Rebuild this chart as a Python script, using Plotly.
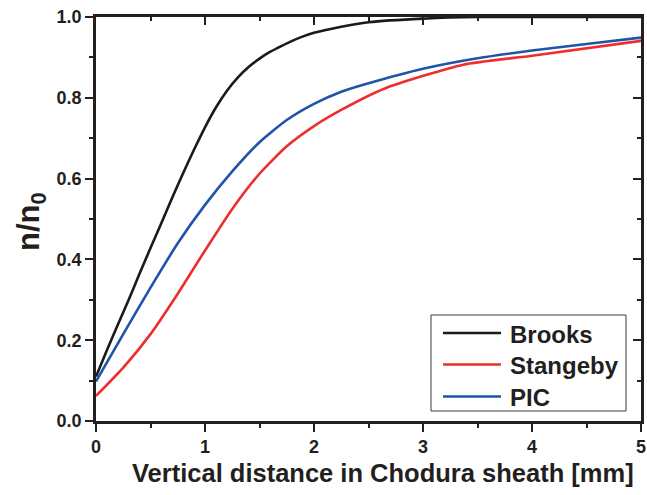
import plotly.graph_objects as go

# ---- data ----
brooks_x = [0, 0.1, 0.2, 0.3, 0.4, 0.5, 0.6, 0.7, 0.8, 0.9, 1.0, 1.1, 1.2, 1.3, 1.4, 1.5,
            1.6, 1.7, 1.8, 1.9, 2.0, 2.25, 2.5, 3.0, 3.5, 4.0, 5.0]
brooks_y = [0.11, 0.175, 0.238, 0.30, 0.365, 0.428, 0.49, 0.553, 0.614, 0.672, 0.727, 0.776,
            0.817, 0.85, 0.876, 0.897, 0.914, 0.928, 0.941, 0.952, 0.961, 0.976, 0.987, 0.996,
            1.0, 1.0, 1.0]

stang_x = [0, 0.25, 0.5, 0.75, 1.0, 1.25, 1.5, 1.75, 2.0, 2.25, 2.65, 3.37, 4.0, 5.0]
stang_y = [0.062, 0.132, 0.215, 0.315, 0.422, 0.525, 0.612, 0.68, 0.73, 0.77, 0.823, 0.882,
           0.904, 0.941]

pic_x = [0, 0.25, 0.5, 0.75, 1.0, 1.25, 1.5, 1.75, 2.0, 2.25, 2.5, 3.0, 3.5, 4.0, 4.5, 5.0]
pic_y = [0.098, 0.215, 0.33, 0.44, 0.535, 0.618, 0.69, 0.745, 0.785, 0.815, 0.836, 0.872,
         0.898, 0.917, 0.933, 0.949]

series_names = ["Brooks", "Stangeby", "PIC"]
series_colors = ["#1a1a1a", "#ee2d2d", "#1f54a8"]

x_title = "Vertical distance in Chodura sheath [mm]"
y_title = "n/n<sub>0</sub>"

FONT = "Liberation Sans"
AX = "#231f20"

fig = go.Figure()
for name, xs, ys, col in zip(series_names, [brooks_x, stang_x, pic_x],
                             [brooks_y, stang_y, pic_y], series_colors):
    fig.add_trace(go.Scatter(x=xs, y=ys, mode="lines", name=name, showlegend=False,
                             line=dict(color=col, width=2.6, shape="spline", smoothing=0.6)))
fig.add_trace(go.Scatter(x=[0], y=[0], xaxis="x2", yaxis="y2", mode="lines",
                         line=dict(width=0), showlegend=False, hoverinfo="skip"))

common = dict(showline=True, linecolor=AX, linewidth=2.5, showgrid=False, zeroline=False,
              tickcolor=AX, tickwidth=2, ticklen=8, automargin=False)
tfont = dict(size=18, family=FONT, color=AX, weight="bold")
minor_out = dict(ticks="outside", ticklen=4.5, tickwidth=2, tickcolor=AX)
minor_in = dict(ticks="inside", ticklen=4.5, tickwidth=2, tickcolor=AX)

fig.update_layout(
    width=647, height=495,
    margin=dict(l=96, r=6, t=17, b=74),
    paper_bgcolor="white", plot_bgcolor="white",
    font=dict(family=FONT, color=AX),
    showlegend=False,
    xaxis=dict(range=[0, 5], ticks="outside", dtick=1, tickformat="d", tickfont=tfont,
               minor=dict(dtick=0.5, **minor_out), **common),
    yaxis=dict(range=[0, 1.0], ticks="outside", dtick=0.2, tickformat=".1f", tickfont=tfont,
               minor=dict(dtick=0.1, **minor_out), **common),
    xaxis2=dict(range=[0, 5], overlaying="x", side="top", ticks="inside", dtick=1,
                showticklabels=False, minor=dict(dtick=0.5, **minor_in), **common),
    yaxis2=dict(range=[0, 1.0], overlaying="y", side="right", ticks="inside", dtick=0.2,
                showticklabels=False, minor=dict(dtick=0.1, **minor_in), **common),
)

# ---- helpers: plot spans x 96..641 px, y 17..421 px ----
def px_x(p):
    return (p - 96) / 545.0

def px_y(p):
    return (421 - p) / 404.0

# axis titles
fig.add_annotation(xref="paper", yref="paper", x=px_x(383), y=px_y(473),
                   text=x_title, showarrow=False, xanchor="center", yanchor="middle",
                   font=dict(size=25.5, family=FONT, color=AX, weight="bold"))
fig.add_annotation(xref="paper", yref="paper", x=px_x(31), y=px_y(222),
                   text=y_title, showarrow=False, xanchor="center", yanchor="middle",
                   textangle=-90,
                   font=dict(size=31, family=FONT, color=AX, weight="bold"))

# manual legend
fig.add_shape(type="rect", xref="paper", yref="paper",
              x0=px_x(431), x1=px_x(626), y0=px_y(411), y1=px_y(315),
              line=dict(color="#3a3a3a", width=1), fillcolor="white", layer="above")
row_y = [333, 364.5, 396.5]
for name, col, ry in zip(series_names, series_colors, row_y):
    fig.add_shape(type="line", xref="paper", yref="paper",
                  x0=px_x(443), x1=px_x(501), y0=px_y(ry), y1=px_y(ry),
                  line=dict(color=col, width=2.6), layer="above")
    fig.add_annotation(xref="paper", yref="paper", x=px_x(508), y=px_y(ry + 1),
                       text=name, showarrow=False, xanchor="left", yanchor="middle",
                       font=dict(size=24, family=FONT, color=AX, weight="bold"))

fig.write_html("out.html")
